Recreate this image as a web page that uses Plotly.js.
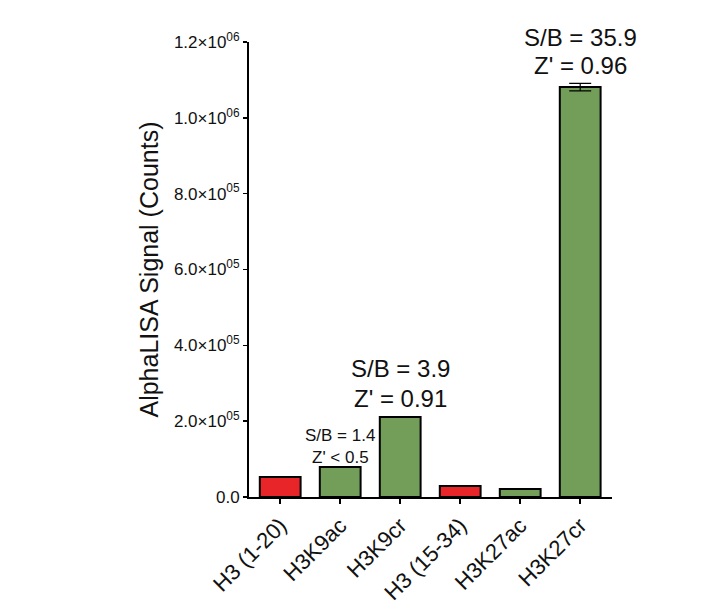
<!DOCTYPE html>
<html><head><meta charset="utf-8">
<script src="https://cdn.plot.ly/plotly-3.0.1.min.js"></script>
<style>body{margin:0;background:#fff}#chart{width:722px;height:614px}</style>
</head><body><div id="chart"></div>
<script>
const categories = ["H3 (1-20)", "H3K9ac", "H3K9cr", "H3 (15-34)", "H3K27ac", "H3K27cr"];
const signal = [53000, 79000, 211000, 29000, 21000, 1081000];
const errors = [0, 0, 0, 0, 0, 10000];
const barColors = ["#e8262a", "#739e5a", "#739e5a", "#e8262a", "#739e5a", "#739e5a"];
const yTickVals = [0, 200000, 400000, 600000, 800000, 1000000, 1200000];
const yTickText = ["0.0", "2.0×10<sup>05</sup>", "4.0×10<sup>05</sup>", "6.0×10<sup>05</sup>", "8.0×10<sup>05</sup>", "1.0×10<sup>06</sup>", "1.2×10<sup>06</sup>"];
const notes = [
  {cat: "H3K27cr", lines: ["S/B = 35.9", "Z' = 0.96"], yref: ["paper", "y"], y: [1.009, 1137000], size: 24},
  {cat: "H3K9cr", lines: ["S/B = 3.9", "Z' = 0.91"], yref: ["y", "y"], y: [340000, 261000], size: 24},
  {cat: "H3K9ac", lines: ["S/B = 1.4", "Z' < 0.5"], yref: ["y", "y"], y: [161000, 103000], size: 17}
];

const annotations = [];
notes.forEach(n => n.lines.forEach((t, i) => annotations.push({
  x: n.cat, y: n.y[i], xref: "x", yref: n.yref[i], text: t, showarrow: false,
  yanchor: "middle", font: {family: "Liberation Sans, Arial", size: n.size, color: "#111"}
})));

Plotly.newPlot("chart", [{
  type: "bar", x: categories, y: signal, width: 0.68,
  marker: {color: barColors, line: {color: "#000", width: 2}},
  error_y: {type: "data", array: errors, visible: true, color: "#000", thickness: 1.2, width: 11}
}], {
  width: 722, height: 614,
  margin: {l: 249, r: 110, t: 42, b: 117},
  paper_bgcolor: "#fff", plot_bgcolor: "#fff",
  showlegend: false,
  font: {family: "Liberation Sans, Arial", color: "#111"},
  xaxis: {
    type: "category", range: [-0.52, 5.53], showline: true, linecolor: "#000", linewidth: 2,
    ticks: "outside", ticklen: 5, tickwidth: 1.5, tickcolor: "#000", tickangle: -45,
    tickfont: {size: 22, color: "#111"}, showgrid: false, zeroline: false
  },
  yaxis: {
    range: [0, 1200000], showline: true, linecolor: "#000", linewidth: 2,
    ticks: "outside", ticklen: 4, tickwidth: 1.5, tickcolor: "#000",
    tickvals: yTickVals, ticktext: yTickText, tickfont: {size: 17, color: "#111"},
    showgrid: false, zeroline: false,
    title: {text: "AlphaLISA Signal (Counts)", font: {size: 25, color: "#111"}, standoff: 8}
  },
  annotations: annotations
}, {displayModeBar: false, staticPlot: true});
</script></body></html>
